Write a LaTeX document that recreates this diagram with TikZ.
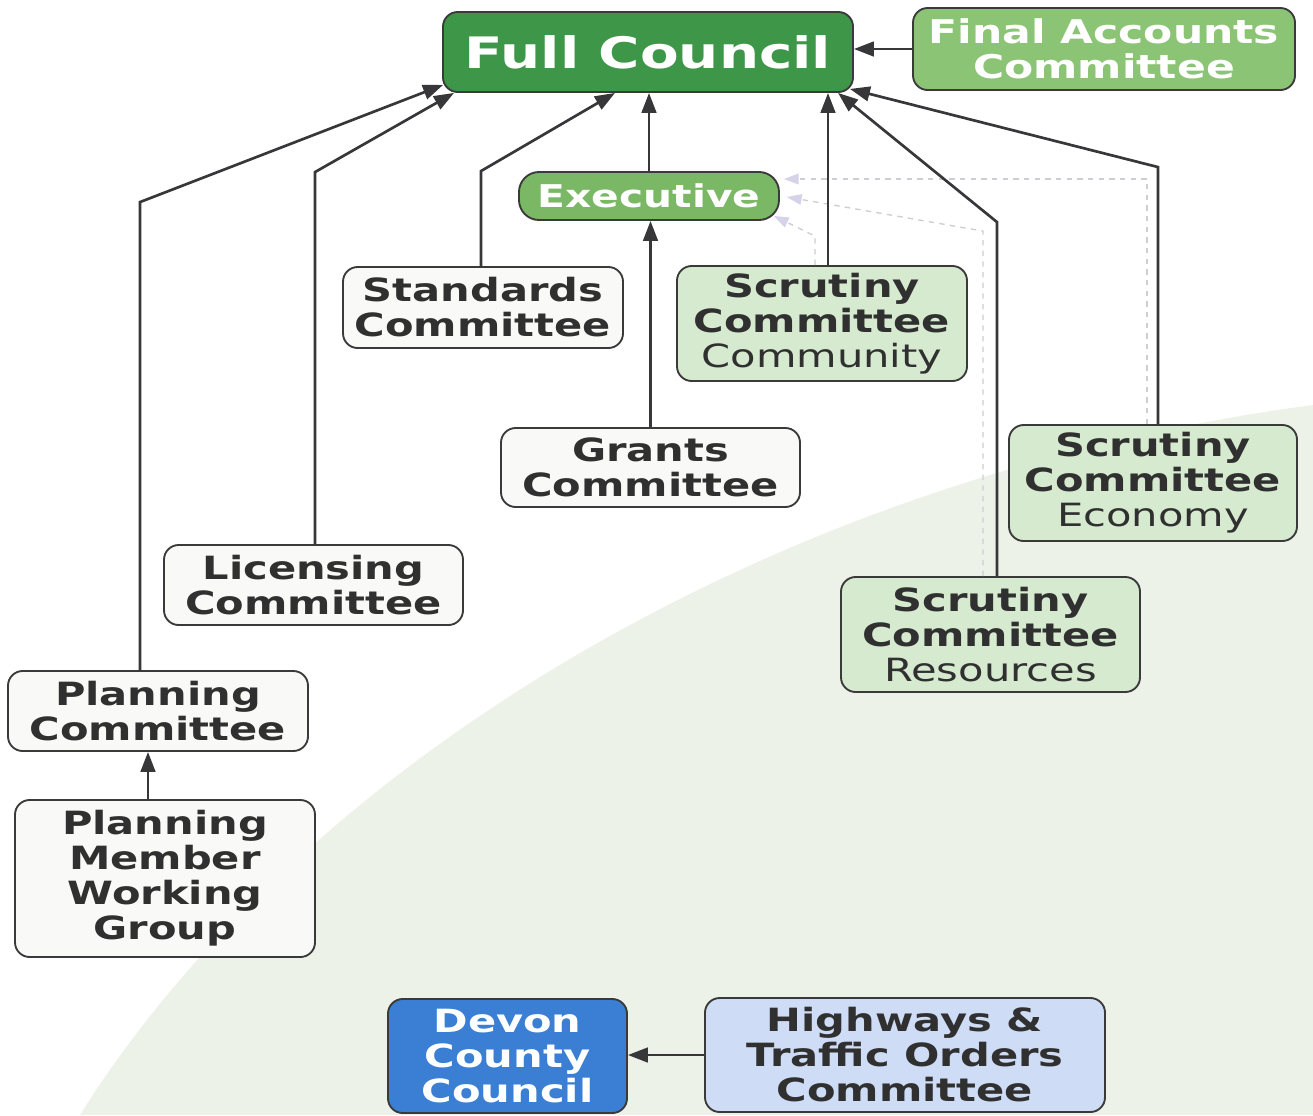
\documentclass[tikz,border=0pt]{standalone}
\usepackage{fontspec}
\setmainfont{DejaVu Sans}[FakeStretch=1.3]
\usetikzlibrary{arrows.meta,calc}
\definecolor{bgc}{RGB}{237,242,232}
\definecolor{bordc}{RGB}{58,58,58}
\definecolor{txtc}{RGB}{48,48,48}
\definecolor{linec}{RGB}{55,55,58}
\definecolor{fcgreen}{RGB}{62,150,72}
\definecolor{fagreen}{RGB}{140,196,118}
\definecolor{exgreen}{RGB}{122,184,102}
\definecolor{scrgreen}{RGB}{214,234,208}
\definecolor{whbox}{RGB}{249,249,247}
\definecolor{dvblue}{RGB}{58,127,212}
\definecolor{hwblue}{RGB}{207,220,246}
\definecolor{dashc}{RGB}{205,205,210}
\definecolor{dashtip}{RGB}{214,210,234}
\tikzset{
  box/.style={draw=bordc, line width=1.4pt, rounded corners=11pt, align=center,
    inner sep=0pt, text=txtc, font=\fontsize{24}{26.25}\selectfont\bfseries},
  wbox/.style={box, fill=whbox},
  sbox/.style={box, fill=scrgreen},
  arr/.style={draw=linec, line width=2pt, -{Triangle[length=15pt,width=11pt]}},
  dsh/.style={draw=dashc, line width=1pt, dash pattern=on 4pt off 4pt,
    -{Triangle[length=11pt,width=8pt,color=dashtip,fill=dashtip]}}
}
\begin{document}
\begin{tikzpicture}[x=0.75pt,y=-0.75pt]
\useasboundingbox (0,0) rectangle (1313,1115);
\fill[white] (0,0) rectangle (1313,1115);
\fill[bgc] (80,1115) .. controls (290,780) and (750,480) .. (1313,405) -- (1313,1115) -- cycle;

% nodes
\node[box, fill=fcgreen, text=white, minimum width=307.5pt, minimum height=60pt,
  font=\fontsize{32.5}{34}\selectfont\bfseries] (fc) at (648,52) {Full Council};
\node[box, fill=fagreen, text=white, minimum width=286.5pt, minimum height=61.5pt,
  font=\fontsize{24.5}{26.25}\selectfont\bfseries] (fa) at (1104,49) {Final Accounts\\Committee};
\node[box, fill=exgreen, text=white, minimum width=195pt, minimum height=36pt,
  rounded corners=15pt, font=\fontsize{23.5}{26}\selectfont\bfseries] (ex) at (649,196) {Executive};
\node[wbox, minimum width=210pt, minimum height=60.75pt] (std) at (483,307.5) {Standards\\Committee};
\node[sbox, minimum width=217.5pt, minimum height=86.25pt] (com) at (822,323.5) {Scrutiny\\Committee\\\mdseries Community};
\node[wbox, minimum width=224.25pt, minimum height=59.25pt] (gr) at (650.5,467.5) {Grants\\Committee};
\node[wbox, minimum width=224.25pt, minimum height=60pt] (lic) at (313.5,585) {Licensing\\Committee};
\node[sbox, minimum width=216pt, minimum height=87pt] (eco) at (1153,483) {Scrutiny\\Committee\\\mdseries Economy};
\node[sbox, minimum width=224.25pt, minimum height=86.25pt] (res) at (990.5,634.5) {Scrutiny\\Committee\\\mdseries Resources};
\node[wbox, minimum width=225pt, minimum height=60pt] (pc) at (158,711) {Planning\\Committee};
\node[wbox, minimum width=225pt, minimum height=117.75pt] (pm) at (165,878.5) {Planning\\Member\\Working\\Group};
\node[box, fill=dvblue, text=white, minimum width=179.25pt, minimum height=85.5pt] (dv) at (507.5,1056) {Devon\\County\\Council};
\node[box, fill=hwblue, minimum width=300pt, minimum height=85.5pt] (hw) at (905,1055) {Highways \&\\Traffic Orders\\Committee};

% helper coordinates
\coordinate (pmA) at ($(pm.north)+(-17,0)$);
\coordinate (pcA) at ($(pc.north)+(-18,0)$);
\coordinate (licA) at ($(lic.north)+(1.5,0)$);
\coordinate (stdA) at ($(std.north)+(-2,0)$);
\coordinate (comA) at ($(com.north)+(6,0)$);
\coordinate (comD) at ($(com.north)+(-7,0)$);
\coordinate (resA) at ($(res.north)+(6.5,0)$);
\coordinate (resD) at ($(res.north)+(-7.5,0)$);
\coordinate (ecoA) at ($(eco.north)+(5,0)$);
\coordinate (ecoD) at ($(eco.north)+(-6,0)$);

% dashed links to Executive
\draw[dsh] (ecoD) |- ($(ex.east)+(4,-17)$);
\draw[dsh] (resD) -- ++(0,-345) -- ($(ex.east)+(7,1)$);
\draw[dsh] (comD) -- ++(0,-29) -- ($(ex.east)+(-6,20)$);

% solid links
\draw[arr] (pmA) -- (pmA |- pc.south);
\draw[arr] (pcA) -- ++(0,-468) -- ($(fc.south west)+(1,-8)$);
\draw[arr] (licA) -- ++(0,-372) -- ($(fc.south)+(-194,0)$);
\draw[arr] (stdA) -- ++(0,-95) -- ($(fc.south)+(-33,0)$);
\draw[arr] (ex.north) -- (ex.north |- fc.south);
\draw[arr] (gr.north) -- (gr.north |- ex.south);
\draw[arr] (comA) -- (comA |- fc.south);
\draw[arr] (resA) -- ++(0,-354) -- ($(fc.south)+(190,0)$);
\draw[arr] (ecoA) -- ++(0,-257) -- ($(fc.south east)+(-4,-4)$);
\draw[arr] (fa.west) -- (fc.east |- fa.west);
\draw[arr] (hw.west) -- (dv.east |- hw.west);
\end{tikzpicture}
\end{document}
